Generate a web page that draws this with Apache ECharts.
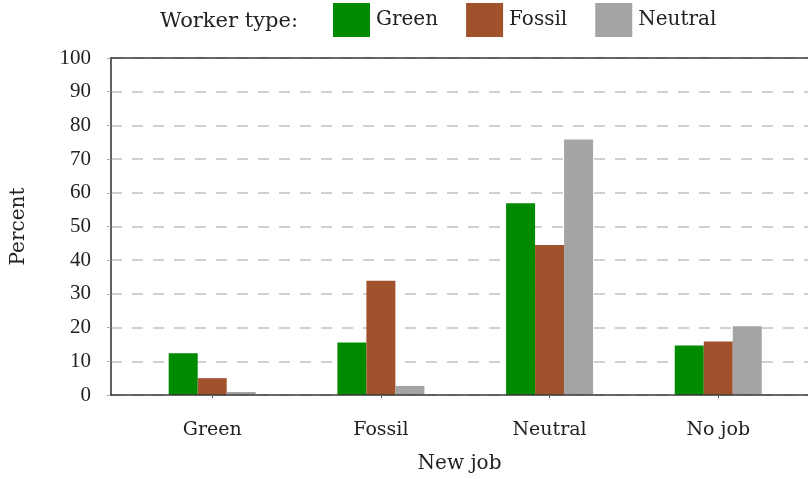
<!DOCTYPE html>
<html lang="en">
<head>
    <meta charset="UTF-8">
    <title>New job by worker type</title>
    <script src="https://cdn.jsdelivr.net/npm/echarts@6.0.0/dist/echarts.min.js"></script>
    <style>
        body { margin: 0; background: #fff; }
        #main { width: 808px; height: 479px; }
    </style>
</head>
<body>
<div id="main"></div>
<script type="text/javascript">
    // categories on the x axis (new job)
    var categories = ['Green', 'Fossil', 'Neutral', 'No job'];
    // worker types
    var greenValues = [12.4, 15.6, 56.9, 14.7];
    var fossilValues = [5.0, 33.9, 44.5, 15.9];
    var neutralValues = [0.9, 2.7, 75.8, 20.4];
    var yTicks = [0, 10, 20, 30, 40, 50, 60, 70, 80, 90, 100];

    var serif = 'DejaVu Serif';
    var textColor = '#222';
    var frameColor = '#3a3a3a';

    function toPoints(vals) {
        var pts = [];
        for (var i = 0; i < vals.length; i++) {
            pts.push([i, vals[i]]);
        }
        return pts;
    }

    var catIdx = [];
    for (var i = 0; i < categories.length; i++) catIdx.push(i);

    var myChart = echarts.init(document.getElementById('main'));

    var option = {
        animation: false,
        title: {
            text: 'Worker type:',
            left: 155,
            top: 6,
            textStyle: { fontFamily: serif, fontWeight: 'normal', fontSize: 21, color: textColor }
        },
        legend: {
            left: 328,
            top: -2,
            itemWidth: 37,
            itemHeight: 34,
            itemGap: 28,
            icon: 'rect',
            textStyle: { fontFamily: serif, fontSize: 20, color: textColor, padding: [2, 0, 0, 1] },
            data: ['Green', 'Fossil', 'Neutral']
        },
        grid: {
            left: 111,
            right: 0,
            top: 58,
            bottom: 82,
            containLabel: false
        },
        xAxis: [{
            type: 'value',
            min: -0.6,
            max: 3.532,
            z: 5,
            name: 'New job',
            nameLocation: 'middle',
            nameGap: 59,
            nameTextStyle: { fontFamily: serif, fontSize: 20, color: textColor },
            axisLine: { show: true, lineStyle: { color: frameColor, width: 1.6 } },
            axisTick: { show: true, length: 3, customValues: catIdx, lineStyle: { color: '#555' } },
            axisLabel: {
                customValues: catIdx,
                margin: 26,
                fontFamily: serif,
                fontSize: 19,
                color: textColor,
                formatter: function (v) { return categories[Math.round(v)]; }
            },
            splitLine: { show: false }
        }, {
            // top frame line only
            type: 'value',
            position: 'top',
            min: -0.6,
            max: 3.532,
            z: 5,
            axisLine: { show: true, onZero: false, lineStyle: { color: frameColor, width: 1.6 } },
            axisTick: { show: false },
            axisLabel: { show: false },
            splitLine: { show: false }
        }],
        yAxis: {
            type: 'value',
            min: 0,
            max: 100,
            interval: 10,
            name: 'Percent',
            nameLocation: 'middle',
            nameGap: 82,
            nameTextStyle: { fontFamily: serif, fontSize: 20, color: textColor },
            axisLine: { show: true, onZero: false, lineStyle: { color: frameColor, width: 1.6 } },
            axisTick: { show: true, length: 4, lineStyle: { color: '#aaa' } },
            axisLabel: {
                margin: 20,
                fontFamily: 'Liberation Serif',
                fontSize: 21,
                color: textColor,
                padding: [5, 0, 0, 0],
                customValues: yTicks
            },
            splitLine: {
                show: true,
                lineStyle: { color: '#d0d0d0', width: 2, type: [11, 10] }
            }
        },
        series: [
            { name: 'Green', type: 'bar', barWidth: 29, barGap: '0%', data: toPoints(greenValues),
              itemStyle: { color: '#008a00' } },
            { name: 'Fossil', type: 'bar', barWidth: 29, barGap: '0%', data: toPoints(fossilValues),
              itemStyle: { color: '#a0522d' } },
            { name: 'Neutral', type: 'bar', barWidth: 29, barGap: '0%', data: toPoints(neutralValues),
              itemStyle: { color: '#a4a4a4' } }
        ]
    };

    myChart.setOption(option);
</script>
</body>
</html>
